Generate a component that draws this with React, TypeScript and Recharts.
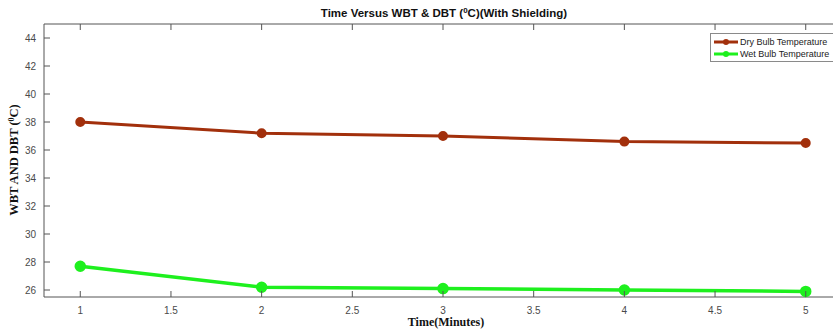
import React from "react";
import { LineChart, Line, XAxis, YAxis } from "recharts";

const times = [1, 2, 3, 4, 5];
const dryBulb = [38.0, 37.2, 37.0, 36.6, 36.5];
const wetBulb = [27.7, 26.2, 26.1, 26.0, 25.9];
const xTicks = [1, 1.5, 2, 2.5, 3, 3.5, 4, 4.5, 5];
const yTicks = [26, 28, 30, 32, 34, 36, 38, 40, 42, 44];

const data = times.map((t, i) => ({ t, dbt: dryBulb[i], wbt: wetBulb[i] }));

const DBT_COLOR = "#a2300c";
const WBT_COLOR = "#1ef01e";
const AXIS = "#555";
const TICKTXT = "#4a4a4a";
const SANS = "'Liberation Sans', Arial, sans-serif";
const SERIF = "'Liberation Serif', 'Times New Roman', serif";

const BottomTick = (p: any) => (
  <g>
    <line x1={p.x} x2={p.x} y1={p.y} y2={p.y - 6} stroke={AXIS} strokeWidth={1} />
    <text x={p.x} y={p.y + 17} textAnchor="middle" fontSize={10} fontFamily={SANS} fill={TICKTXT}>
      {p.payload.value}
    </text>
  </g>
);
const TopTick = (p: any) => (
  <line x1={p.x} x2={p.x} y1={p.y} y2={p.y + 6} stroke={AXIS} strokeWidth={1} />
);
const LeftTick = (p: any) => (
  <g>
    <line x1={p.x} x2={p.x + 6} y1={p.y} y2={p.y} stroke={AXIS} strokeWidth={1} />
    <text x={p.x - 8} y={p.y + 3.5} textAnchor="end" fontSize={10} fontFamily={SANS} fill={TICKTXT}>
      {p.payload.value}
    </text>
  </g>
);

const legendItems = [
  { c: DBT_COLOR, l: "Dry Bulb Temperature" },
  { c: WBT_COLOR, l: "Wet Bulb Temperature" },
];

export default function App() {
  return (
    <div style={{ position: "absolute", left: 0, top: 0, width: 833, height: 332, overflow: "hidden", background: "#fff" }}>
      <LineChart width={850} height={332} data={data} margin={{ top: 23, right: 8, bottom: 5, left: 8 }}>
        <XAxis
          dataKey="t"
          type="number"
          domain={[0.8, 5.2]}
          ticks={xTicks}
          axisLine={{ stroke: AXIS }}
          tickLine={false}
          tickSize={0}
          tickMargin={0}
          height={30}
          tick={<BottomTick />}
          interval={0}
        />
        <XAxis
          xAxisId="top"
          orientation="top"
          dataKey="t"
          type="number"
          domain={[0.8, 5.2]}
          ticks={xTicks}
          axisLine={{ stroke: AXIS }}
          tickLine={false}
          tickSize={0}
          tickMargin={0}
          height={1}
          tick={<TopTick />}
          interval={0}
        />
        <YAxis
          type="number"
          domain={[25.5, 45]}
          ticks={yTicks}
          axisLine={{ stroke: AXIS }}
          tickLine={false}
          tickSize={0}
          tickMargin={0}
          width={36}
          tick={<LeftTick />}
          interval={0}
        />
        <Line
          dataKey="dbt"
          stroke={DBT_COLOR}
          strokeWidth={3}
          dot={{ r: 3.5, fill: DBT_COLOR, stroke: DBT_COLOR }}
          isAnimationActive={false}
        />
        <Line
          dataKey="wbt"
          stroke={WBT_COLOR}
          strokeWidth={3.5}
          dot={{ r: 4, fill: WBT_COLOR, stroke: WBT_COLOR }}
          isAnimationActive={false}
        />
        <text x={444} y={17} textAnchor="middle" fontSize={11.5} fontWeight="bold" fontFamily={SANS} fill="#111">
          Time Versus WBT &amp; DBT (<tspan fontSize={8} dy={-4}>0</tspan><tspan dy={4}>C)(With Shielding)</tspan>
        </text>
        <text x={446} y={326} textAnchor="middle" fontSize={12} fontWeight="bold" fontFamily={SERIF} fill="#111">
          Time(Minutes)
        </text>
        <text
          x={0}
          y={0}
          transform="translate(18,160) rotate(-90)"
          textAnchor="middle"
          fontSize={12.5}
          fontWeight="bold"
          fontFamily={SERIF}
          fill="#111"
        >
          WBT AND DBT (<tspan fontSize={8} dy={-4}>0</tspan><tspan dy={4}>C)</tspan>
        </text>
      </LineChart>
      <div
        style={{
          position: "absolute",
          left: 710,
          top: 33,
          width: 123,
          height: 29,
          border: "1px solid #8a8a8a",
          borderRight: "none",
          background: "#fff",
          fontFamily: SANS,
          fontSize: 9,
          color: "#222",
          boxSizing: "border-box",
          paddingTop: 2,
        }}
      >
        {legendItems.map((it) => (
          <div key={it.l} style={{ display: "flex", alignItems: "center", height: 12, whiteSpace: "nowrap" }}>
            <svg width={24} height={10} style={{ marginLeft: 3, marginRight: 2 }}>
              <line x1={0} x2={24} y1={5} y2={5} stroke={it.c} strokeWidth={3} />
              <circle cx={12} cy={5} r={3} fill={it.c} />
            </svg>
            <span>{it.l}</span>
          </div>
        ))}
      </div>
    </div>
  );
}
